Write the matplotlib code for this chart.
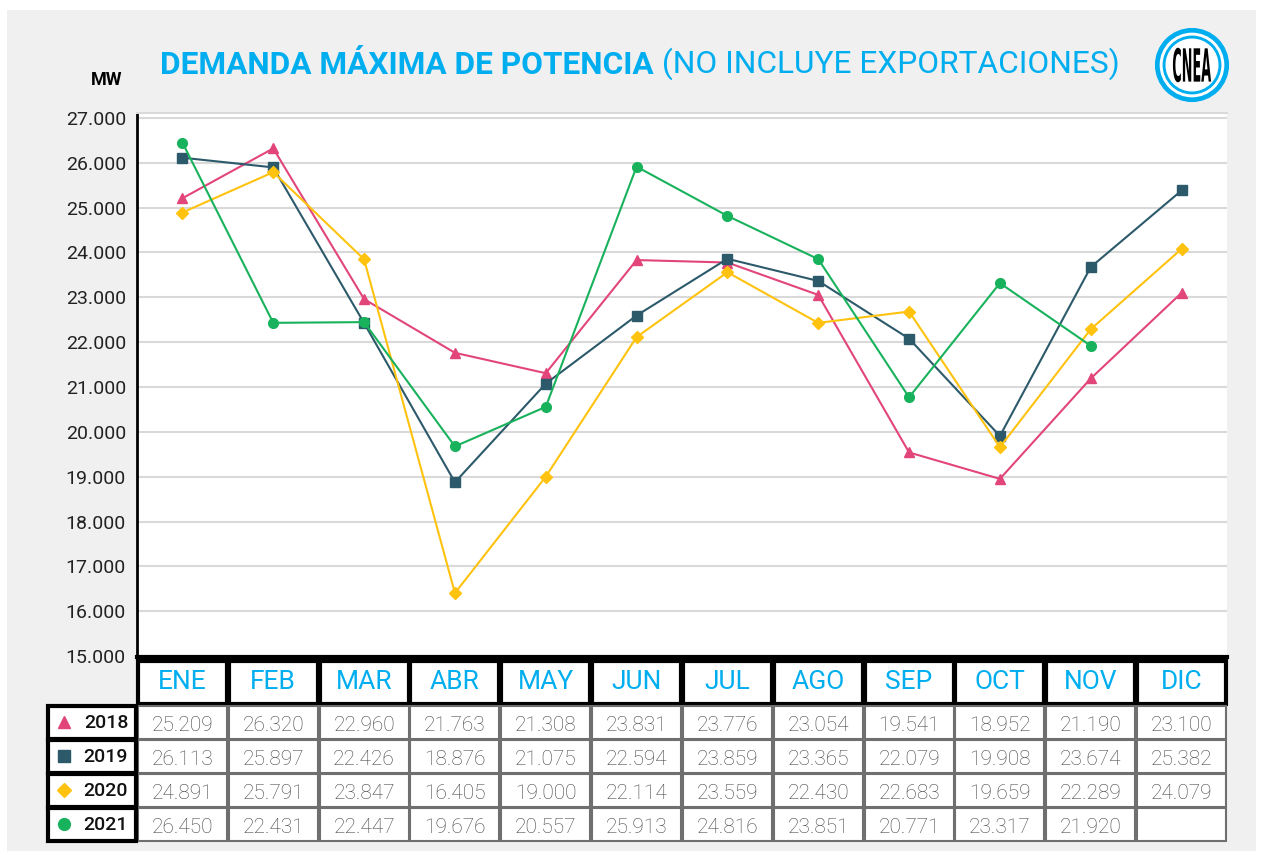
import numpy as np
import matplotlib.pyplot as plt
import matplotlib.ticker as mticker
from matplotlib.patches import Rectangle, Circle, PathPatch
from matplotlib.textpath import TextPath
from matplotlib.font_manager import FontProperties
from matplotlib.transforms import Affine2D

plt.rcParams['font.family'] = ['Roboto', 'DejaVu Sans']

months = ['ENE', 'FEB', 'MAR', 'ABR', 'MAY', 'JUN', 'JUL', 'AGO', 'SEP', 'OCT', 'NOV', 'DIC']
years = ['2018', '2019', '2020', '2021']
d2018 = [25209, 26320, 22960, 21763, 21308, 23831, 23776, 23054, 19541, 18952, 21190, 23100]
d2019 = [26113, 25897, 22426, 18876, 21075, 22594, 23859, 23365, 22079, 19908, 23674, 25382]
d2020 = [24891, 25791, 23847, 16405, 19000, 22114, 23559, 22430, 22683, 19659, 22289, 24079]
d2021 = [26450, 22431, 22447, 19676, 20557, 25913, 24816, 23851, 20771, 23317, 21920, None]
series = [d2018, d2019, d2020, d2021]

colors = ['#e2457a', '#2c5a6a', '#ffc20e', '#19b25c']
markers = ['^', 's', 'D', 'o']
msizes = [7, 6.5, 5.8, 7]

BLUE = '#00aeef'
W, H = 1262, 855


def box(x0, y0, x1, y1):
    # pixel box (top-left origin) -> figure fraction
    return [x0 / W, 1 - y1 / H, (x1 - x0) / W, (y1 - y0) / H]


def fmt(v):
    return '' if v is None else f'{int(v):,}'.replace(',', '.')


fig = plt.figure(figsize=(W / 100, H / 100), dpi=100)
fig.patch.set_facecolor('white')
fig.patches.append(Rectangle((7 / W, 4 / H), 1249 / W, 841 / H, transform=fig.transFigure,
                             facecolor='#f0f0f0', edgecolor='none', zorder=-10))

# main chart
ax = fig.add_axes(box(137, 113, 1227, 657))
x = np.arange(len(months))
for vals, c, m, ms in zip(series, colors, markers, msizes):
    y = np.array([np.nan if v is None else v for v in vals], dtype=float)
    ax.plot(x, y, color=c, lw=1.5, marker=m, markersize=ms, zorder=3)

ax.set_xlim(-0.5, 11.5)
ax.set_ylim(14980, 27110)
ax.set_yticks(np.arange(15000, 27001, 1000))
ax.yaxis.set_major_formatter(mticker.FuncFormatter(lambda v, p: fmt(v)))
ax.set_xticks([])
ax.tick_params(axis='y', length=0, pad=8, labelsize=14, labelcolor='#222222')
ax.grid(axis='y', color='#d9d9d9', lw=1.5)
ax.set_axisbelow(True)
ax.spines['left'].set_linewidth(2)
ax.spines['bottom'].set_linewidth(3)
ax.spines['right'].set_visible(False)
ax.spines['top'].set_color('#d9d9d9')
ax.spines['top'].set_linewidth(1.5)

fig.text(122 / W, 1 - 80 / H, 'MW', ha='right', va='center', fontweight='bold', fontsize=13)

# title
t1 = fig.text(160 / W, 1 - 74 / H, 'DEMANDA MÁXIMA DE POTENCIA', color=BLUE,
              fontweight='bold', fontsize=22.8, va='baseline')
ax.annotate(' (NO INCLUYE EXPORTACIONES)', xy=(1, 0), xycoords=t1, va='bottom',
            color=BLUE, fontsize=22.8, annotation_clip=False)

# table
tax = fig.add_axes(box(137, 657, 1227, 845))
tax.set_xlim(-0.5, 11.5)
tax.set_ylim(845, 657)
tax.axis('off')
gap = 0.011
for i, mth in enumerate(months):
    tax.add_patch(Rectangle((i - 0.5 + gap, 661), 1 - 2 * gap, 43, lw=3, ec='black',
                            fc='white', clip_on=False))
    tax.text(i, 682, mth, ha='center', va='center', color=BLUE, fontsize=19)

row_tops = [706, 740, 774, 808]
row_h = 32.5
lx0 = -0.5 - 89 / 90.83
for r, (yr, vals) in enumerate(zip(years, series)):
    top = row_tops[r]
    yc = top + row_h / 2
    for i, v in enumerate(vals):
        tax.add_patch(Rectangle((i - 0.5 + gap, top), 1 - 2 * gap, row_h, lw=1.5,
                                ec='#6f6f6f', fc='white', clip_on=False))
        tax.text(i, yc + 3, fmt(v), ha='center', va='center', color='#444444',
                 fontsize=15, fontweight='light')
    tax.add_patch(Rectangle((lx0, top), 88 / 90.83, row_h, lw=3, ec='black',
                            fc='white', clip_on=False))
    tax.plot([lx0 + 16 / 90.83], [yc], marker=markers[r], color=colors[r],
             markersize=msizes[r] + 1.5, clip_on=False, ls='none')
    tax.text(lx0 + 58 / 90.83, yc + 1, yr, ha='center', va='center', fontsize=14,
             fontweight='medium', color='#111111')

# CNEA logo
lax = fig.add_axes(box(1152, 25, 1232, 105))
lax.set_xlim(-1.1, 1.1)
lax.set_ylim(-1.1, 1.1)
lax.set_aspect('equal')
lax.axis('off')
for rad, col in [(1.0, BLUE), (0.87, 'white'), (0.79, BLUE), (0.71, 'white')]:
    lax.add_patch(Circle((0, 0), rad, color=col))
tp = TextPath((0, 0), 'CNEA', size=1, prop=FontProperties(family='DejaVu Sans', weight='bold'))
ext = tp.get_extents()
tr = (Affine2D().translate(-(ext.x0 + ext.x1) / 2, -(ext.y0 + ext.y1) / 2)
      .scale(1.05 / ext.width, 0.95 / ext.height))
lax.add_patch(PathPatch(tr.transform_path(tp), color='black', lw=0))

fig.savefig('out.png', dpi=100, facecolor=fig.get_facecolor())
